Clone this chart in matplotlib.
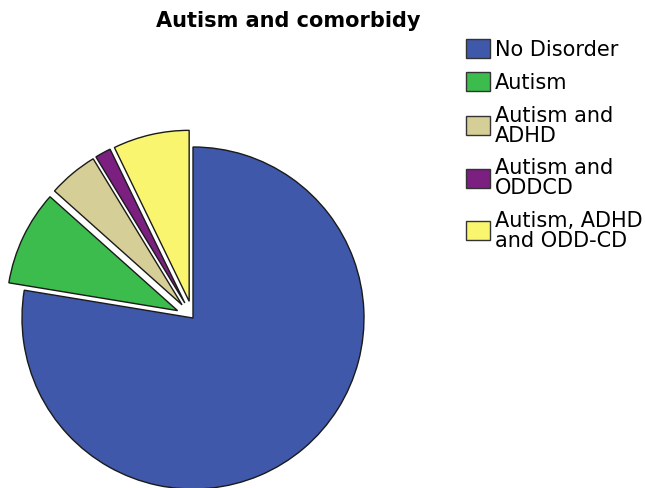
import matplotlib
matplotlib.use("Agg")
import matplotlib.pyplot as plt
from matplotlib.patches import Patch

categories = ["No Disorder", "Autism", "Autism and\nADHD", "Autism and\nODDCD", "Autism, ADHD\nand ODD-CD"]
values = [77.6, 9.0, 4.7, 1.5, 7.2]
explode = [0.0, 0.1, 0.1, 0.1, 0.1]
colors = ["#3F58AA", "#3CBC4D", "#D5CE96", "#7B1F80", "#FAF56E"]

W, H = 645, 489
fig = plt.figure(figsize=(W / 100, H / 100), dpi=100)

cx, cy, r = 193, 489 - 319, 171
ax_w = 430
ax = fig.add_axes([0, 0, ax_w / W, 1])
ax.pie(values, explode=explode, colors=colors, startangle=90, counterclock=False,
       wedgeprops=dict(edgecolor="#1a1a1a", linewidth=1.0))
ax.set_xlim(-cx / r, (ax_w - cx) / r)
ax.set_ylim(-cy / r, (H - cy) / r)
ax.set_aspect("auto")
ax.axis("off")

fig.text(288 / W, 1 - 21 / H, "Autism and comorbidy", ha="center", va="center",
         fontsize=15, fontweight="bold")

handles = [Patch(facecolor=c, edgecolor="#333333", linewidth=1.0) for c in colors]
leg = fig.legend(handles, categories, loc="upper left",
                 bbox_to_anchor=(466 / W, 1 - 40 / H), frameon=False, fontsize=15,
                 handlelength=1.15, handleheight=1.0, handletextpad=0.24,
                 labelspacing=0.6, borderpad=0, borderaxespad=0)
for t in leg.get_texts():
    t.set_linespacing(1.0)

fig.savefig("out.png", dpi=100)
